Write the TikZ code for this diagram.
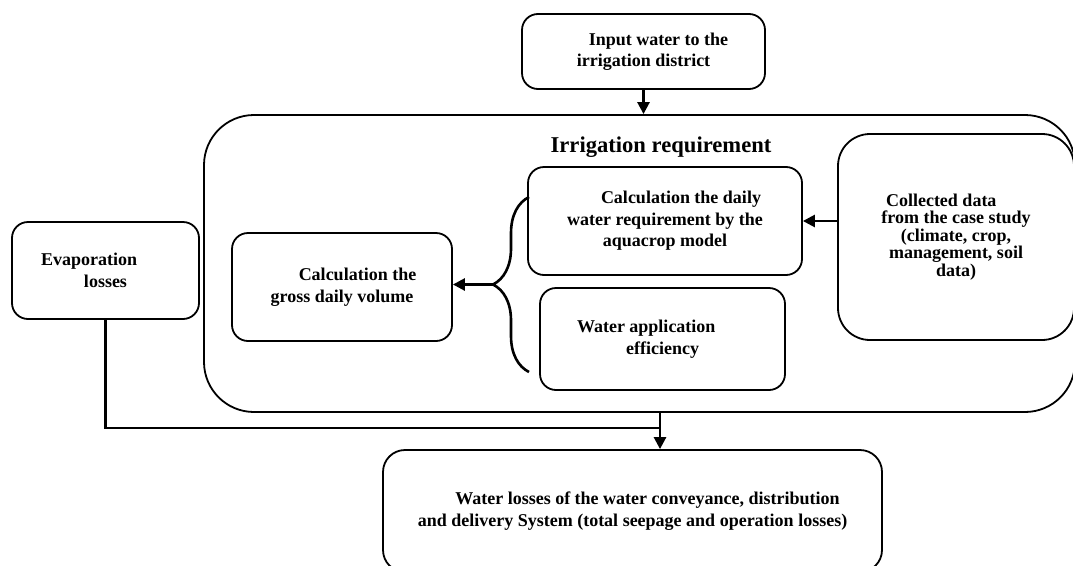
\documentclass[tikz,border=0pt]{standalone}
\usepackage{fontspec}
\setmainfont{Liberation Serif}
\usetikzlibrary{arrows.meta,decorations.pathreplacing}

\begin{document}
\begin{tikzpicture}[x=1pt,y=-1pt,
  box/.style={draw,line width=1.8pt,rounded corners=16pt,align=center,inner sep=0pt,
    font=\fontsize{18}{21.5}\selectfont\bfseries},
  conn/.style={line width=2.6pt},
  arr/.style={conn,-{Triangle[length=12pt,width=12pt]}}]
\useasboundingbox (0,0) rectangle (1073,565);
\clip (0,0) rectangle (1073,565);
%\draw [help lines,step=50] (0,0) grid (1073,565);
\node [box, minimum width=243pt, minimum height=75pt] (input) at (643.5,51.5)
  {\hspace*{30pt}Input water to the\\irrigation district};
\node [box, rounded corners=50pt, minimum width=871pt, minimum height=297pt] (req) at (639.5,263.5) {};
\node [font=\fontsize{22.6}{26}\selectfont\bfseries] (reqtitle) at (661,147) {Irrigation requirement};
\node [box, rounded corners=32pt, minimum width=236pt, minimum height=206pt,
  font=\fontsize{18}{17.5}\selectfont\bfseries] (collected) at (956,237)
  {\makebox[140pt][l]{Collected data}\\from the case study\\(climate, crop,\\management, soil\\data)};
\node [box, minimum width=274pt, minimum height=108pt] (daily) at (665,221)
  {\hspace*{32pt}Calculation the daily\\water requirement by the\\aquacrop model};
\node [box, minimum width=245pt, minimum height=102pt] (wateff) at (662.5,339)
  {\makebox[171pt][l]{Water application}\\efficiency};
\node [box, minimum width=220pt, minimum height=108pt] (gross) at (342,287)
  {\hspace*{31pt}Calculation the\\gross daily volume};
\node [box, minimum width=187pt, minimum height=97pt] (evap) at (105.5,270.5)
  {\makebox[129pt][l]{Evaporation}\\losses};
\node [box, rounded corners=22pt, minimum width=499pt, minimum height=122pt] (losses) at (632.5,511)
  {\hspace*{30pt}Water losses of the water conveyance, distribution\\and delivery System (total seepage and operation losses)};
% brace and arrows
\coordinate (bt) at (529,197);
\coordinate (bb) at (529,372);
\coordinate (tip) at (493,284.5);
\coordinate (join) at (660,428);
\draw [arr] (input.south) -- (input.south |- req.north);
\draw [arr] (daily.east -| collected.west) -- (daily.east);
\draw [conn,decorate,decoration={brace,amplitude=36pt}] (bb) -- (bt);
\draw [arr] (tip) -- (tip -| gross.east);
\draw [conn] (evap.south) |- (join);
\draw [arr] (join |- req.south) -- (join |- losses.north);
\end{tikzpicture}
\end{document}
